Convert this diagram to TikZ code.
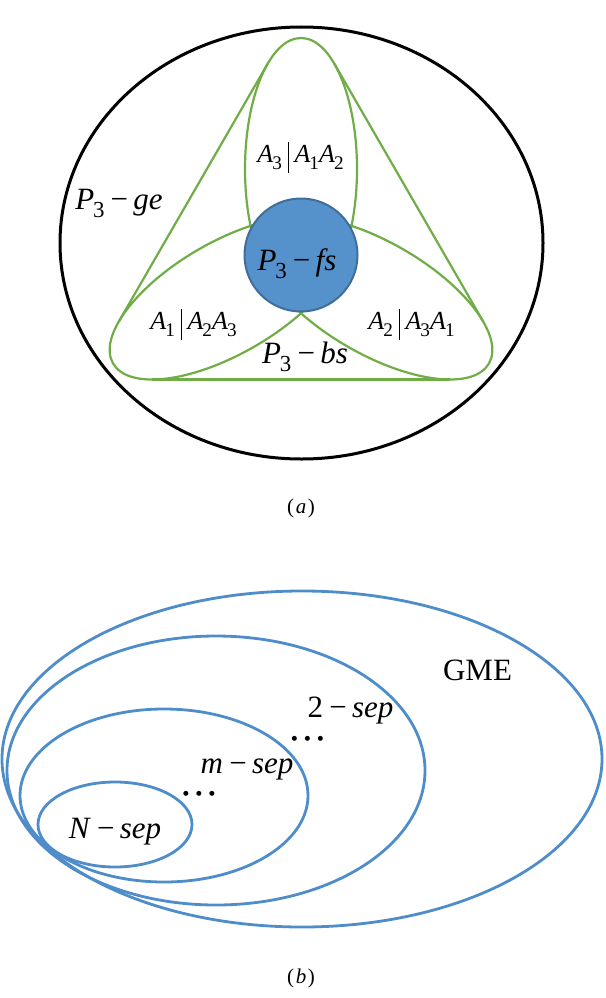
\documentclass[tikz,border=0pt]{standalone}
\usepackage{fontspec}
\setmainfont{Liberation Serif}
\newfontfamily\symfont{DejaVu Sans}
\usepackage{graphicx}
\definecolor{petalgreen}{HTML}{70AD47}
\definecolor{circlefill}{HTML}{5591CA}
\definecolor{circleedge}{HTML}{3F6E9A}
\definecolor{setblue}{HTML}{4E8DC9}
\newcommand\IS[2]{\textit{#1}\kern-0.04em\raisebox{-0.27em}{\scalebox{0.74}{#2}}}
\newcommand\BAR{\kern0.22em\rule[-0.42em]{0.045em}{1.2em}\kern0.22em}
\newcommand\MN{\kern0.2em−\kern0.17em}
\newcommand\DOTS{\makebox[13pt]{●}\makebox[13pt]{●}\makebox[13pt]{●}}
\begin{document}
\begin{tikzpicture}[x=1pt,y=-1pt]
\tikzset{
  petal/.style={draw=petalgreen, line width=2.2pt},
  outerline/.style={draw=black, line width=3pt},
  setline/.style={draw=setblue, line width=2.8pt},
  lblA/.style={font=\fontsize{26}{30}\selectfont, anchor=base, inner sep=0pt},
  lblP/.style={font=\fontsize{31}{36}\selectfont, anchor=base, inner sep=0pt},
  lblB/.style={font=\fontsize{31}{36}\selectfont, anchor=base, inner sep=0pt},
  dotrow/.style={font=\symfont\fontsize{6.5}{8}\selectfont, anchor=base, inner sep=0pt},
  caption/.style={font=\fontsize{21}{24}\selectfont, anchor=base, inner sep=0pt},
}
\useasboundingbox (0,0) rectangle (605,998);
% ---------- (a) ----------
\draw[outerline] (301.5,243) ellipse [x radius=241.5, y radius=216];
\begin{scope}[shift={(301,255)}]
  \foreach \r in {0,120,240}{
    \begin{scope}[rotate=\r]
      \draw[petal] (0,-86) ellipse [x radius=56, y radius=131];
      \draw[petal] (-149,124.5) -- (149,124.5);
    \end{scope}
  }
\end{scope}
\draw[draw=circleedge, fill=circlefill, line width=2pt] (301,255) circle [radius=56.5];
\node[lblA] (l3) at (300.5,162) {\IS{A}{3}\BAR\IS{A}{1}\IS{A}{2}};
\node[lblA] (l1) at (193.5,329) {\IS{A}{1}\BAR\IS{A}{2}\IS{A}{3}};
\node[lblA] (l2) at (411.5,329) {\IS{A}{2}\BAR\IS{A}{3}\IS{A}{1}};
\node[lblP] (ge) at (119,209) {\IS{P}{3}\MN\textit{ge}};
\node[lblP] (fs) at (297,270) {\IS{P}{3}\MN\textit{fs}};
\node[lblP] (bs) at (305,363) {\IS{P}{3}\MN\textit{bs}};
\node[caption] (capa) at (301,513) {(\kern0.08em\textit{a}\kern0.08em)};
% ---------- (b) ----------
\draw[setline] (302,759) ellipse [x radius=300, y radius=168];
\draw[setline] (216,770.5) ellipse [x radius=209, y radius=134.5];
\draw[setline] (164,795.5) ellipse [x radius=144, y radius=86.5];
\draw[setline] (115,824.5) ellipse [x radius=77, y radius=42.5];
\node[lblB] (gme) at (477.5,680) {GME};
\node[lblB] (s2) at (350.5,717) {2\MN\textit{sep}};
\node[lblB] (sm) at (247,773) {\textit{m}\MN\textit{sep}};
\node[lblB] (sn) at (115,838) {\textit{N}\MN\textit{sep}};
\node[dotrow] (d1) at (307.5,740.5) {\DOTS};
\node[dotrow] (d2) at (199,795.5) {\DOTS};
\node[caption] (capb) at (301,983) {(\kern0.08em\textit{b}\kern0.08em)};
\end{tikzpicture}
\end{document}
